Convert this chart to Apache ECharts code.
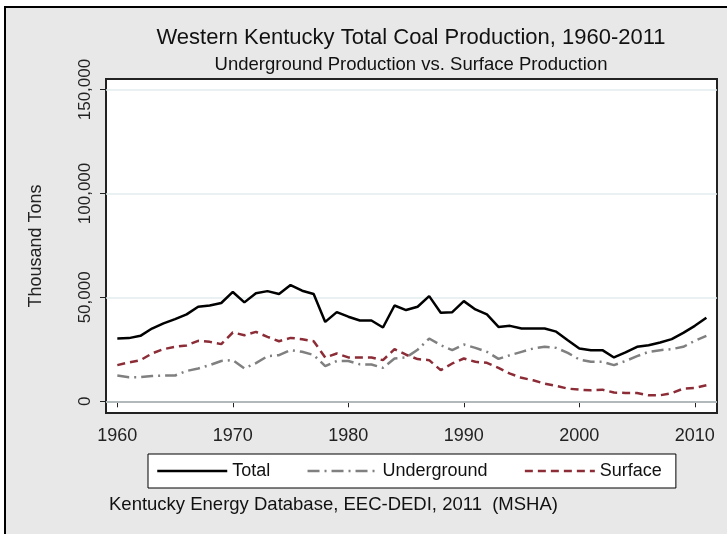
<!DOCTYPE html>
<html>
<head>
<meta charset="utf-8">
<script src="https://cdn.jsdelivr.net/npm/echarts@6/dist/echarts.min.js"></script>
<style>
html,body{margin:0;padding:0;background:#fff;}
#main{width:727px;height:534px;}
</style>
</head>
<body>
<div id="main"></div>
<script>
const years = [];
for (let y = 1960; y <= 2011; y++) years.push(y);

const total = [30200,30400,31500,35000,37500,39500,41800,45500,46100,47300,
  52600,47600,52000,53000,51600,55900,53200,51600,38200,42900,
  40700,38900,38900,35500,46100,43900,45500,50600,42600,42900,
  48200,44200,41800,35800,36300,35000,35000,35000,33500,29400,
  25400,24600,24600,21100,23500,26200,27000,28300,29900,32900,
  36300,40200];
const underground = [12400,11600,11600,12200,12400,12400,14600,15800,17400,19400,
  19800,15800,18400,21700,22200,24600,23800,22300,16900,19400,
  19400,17800,17700,16100,20600,21100,24800,30200,27000,24600,
  27300,25700,23800,20400,22200,23800,25400,26200,25700,23300,
  20100,19000,19000,17400,19400,21700,23800,24600,25100,26200,
  29100,31500];
const surface = [17400,18700,19800,23000,25100,26200,26900,29100,28600,27500,
  33100,31800,33400,31000,28900,30500,29900,28900,21100,23000,
  21100,21100,21100,19800,25100,22400,20300,19800,15000,18200,
  20600,19000,18500,16100,13300,11300,10100,8500,7400,6100,
  5600,5300,5600,4200,4000,4000,2900,2900,3900,6100,
  6400,7700];

const xTicks = [1960,1970,1980,1990,2000,2010];
const yTicks = [0,50000,100000,150000];

const titleText = 'Western Kentucky Total Coal Production, 1960-2011';
const subtitleText = 'Underground Production vs. Surface Production';
const footerText = 'Kentucky Energy Database, EEC-DEDI, 2011  (MSHA)';
const yName = 'Thousand Tons';
const seriesNames = ['Total','Underground','Surface'];

const FONT = '"Liberation Sans", Arial, sans-serif';
const chart = echarts.init(document.getElementById('main'), null, {renderer:'canvas'});

function pairs(arr){ return years.map((y,i)=>[y,arr[i]]); }

const option = {
  backgroundColor: '#ffffff',
  animation: false,
  textStyle: {fontFamily: FONT},
  graphic: [
    {type:'rect', z:-100, silent:true, shape:{x:5,y:7,width:740,height:540},
     style:{fill:'#e8e8e8', stroke:'#000', lineWidth:2}},
    {type:'text', x:411, y:38, style:{text:titleText, fontFamily:FONT, fontSize:22, fill:'#111', textAlign:'center', textVerticalAlign:'middle'}},
    {type:'text', x:411, y:65, style:{text:subtitleText, fontFamily:FONT, fontSize:18.5, fill:'#111', textAlign:'center', textVerticalAlign:'middle'}},
    {type:'text', x:109, y:505, style:{text:footerText, fontFamily:FONT, fontSize:18.5, fill:'#111', textAlign:'left', textVerticalAlign:'middle'}}
  ],
  grid: {left:106, right:10, top:79, bottom:121, show:true, backgroundColor:'#ffffff', borderColor:'#222', borderWidth:2},
  legend: {
    left:148, top:454, orient:'horizontal',
    backgroundColor:'#fff', borderColor:'#000', borderWidth:1, borderRadius:0,
    padding:[8,14,8,8], itemWidth:70, itemHeight:14, itemGap:36,
    itemStyle:{opacity:0},
    lineStyle:{width:2.5},
    textStyle:{fontSize:18, color:'#111', fontFamily:FONT},
    data: seriesNames
  },
  xAxis: {
    type:'value', min:1959.02, max:2011.92,
    axisLine:{show:true, lineStyle:{color:'#222', width:2}},
    axisTick:{show:true, length:6, customValues:xTicks, lineStyle:{color:'#222', width:1}},
    axisLabel:{customValues:xTicks, fontSize:18, color:'#222', margin:14, fontFamily:FONT,
      formatter:v=>String(v)},
    splitLine:{show:false}
  },
  yAxis: {
    type:'value', min:-5630, max:155060,
    name:yName, nameLocation:'middle', nameGap:61, nameRotate:90,
    nameTextStyle:{fontSize:18, color:'#222', fontFamily:FONT},
    axisLine:{show:true, lineStyle:{color:'#222', width:2}},
    axisTick:{show:true, length:6, customValues:yTicks, lineStyle:{color:'#222', width:1}},
    axisLabel:{customValues:yTicks, rotate:90, fontSize:17, color:'#222', margin:12, fontFamily:FONT,
      formatter:v=>v.toLocaleString('en-US')},
    splitLine:{show:false}
  },
  series: [
    {type:'line', name:'_grid', data:[], z:1, silent:true,
     markLine:{silent:true, symbol:'none', label:{show:false},
       lineStyle:{color:'#e3ecee', width:1.5, type:'solid'},
       data: yTicks.map(v=>({yAxis:v}))}},
    {type:'line', name:seriesNames[0], data:pairs(total), showSymbol:false, symbol:'none', z:5,
     lineStyle:{color:'#000', width:2.5, type:'solid'}, itemStyle:{color:'#000'}},
    {type:'line', name:seriesNames[1], data:pairs(underground), showSymbol:false, symbol:'none', z:4,
     lineStyle:{color:'#808080', width:2.5, type:[12,5,2,5]}, itemStyle:{color:'#808080'}},
    {type:'line', name:seriesNames[2], data:pairs(surface), showSymbol:false, symbol:'none', z:3,
     lineStyle:{color:'#8c2c36', width:2.5, type:[8,5]}, itemStyle:{color:'#8c2c36'}}
  ]
};
chart.setOption(option);
</script>
</body>
</html>
